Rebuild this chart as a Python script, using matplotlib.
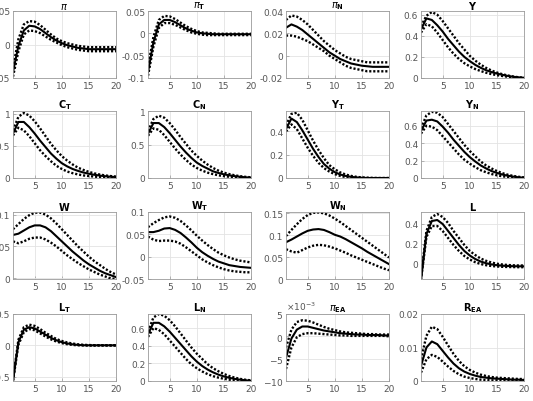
import numpy as np
import matplotlib
matplotlib.use('Agg')
import matplotlib.pyplot as plt
from matplotlib.ticker import ScalarFormatter

# horizon
h = np.arange(1, 21)

# panel titles (MATLAB-style TeX)
titles = [r'$\pi$', r'$\pi_{\mathbf{T}}$', r'$\pi_{\mathbf{N}}$', r'$\mathbf{Y}$',
          r'$\mathbf{C_T}$', r'$\mathbf{C_N}$', r'$\mathbf{Y_T}$', r'$\mathbf{Y_N}$',
          r'$\mathbf{W}$', r'$\mathbf{W_T}$', r'$\mathbf{W_N}$', r'$\mathbf{L}$',
          r'$\mathbf{L_T}$', r'$\mathbf{L_N}$', r'$\pi_{\mathbf{EA}}$', r'$\mathbf{R_{EA}}$']

# median responses and bands
pi_med = [-0.041, -0.002, 0.021, 0.028, 0.027, 0.023, 0.017, 0.011, 0.006, 0.002,
          -0.001, -0.003, -0.005, -0.006, -0.007, -0.007, -0.007, -0.007, -0.007, -0.007]
pi_up = [-0.035, 0.008, 0.030, 0.035, 0.034, 0.029, 0.022, 0.015, 0.009, 0.005,
         0.002, 0.000, -0.002, -0.003, -0.004, -0.004, -0.004, -0.004, -0.004, -0.004]
pi_lo = [-0.048, -0.010, 0.015, 0.021, 0.020, 0.017, 0.012, 0.007, 0.003, -0.001,
         -0.004, -0.006, -0.008, -0.009, -0.010, -0.010, -0.010, -0.010, -0.010, -0.010]

piT_med = [-0.087, -0.020, 0.020, 0.030, 0.030, 0.025, 0.018, 0.011, 0.006, 0.002,
           0.000, -0.001, -0.002, -0.002, -0.002, -0.002, -0.002, -0.002, -0.002, -0.002]
piT_up = [-0.075, -0.008, 0.030, 0.039, 0.038, 0.032, 0.024, 0.016, 0.010, 0.005,
          0.002, 0.001, 0.000, -0.001, -0.001, -0.001, -0.001, -0.001, -0.001, -0.001]
piT_lo = [-0.095, -0.030, 0.012, 0.023, 0.023, 0.019, 0.013, 0.007, 0.002, -0.001,
          -0.003, -0.004, -0.004, -0.004, -0.004, -0.004, -0.004, -0.004, -0.004, -0.004]

piN_med = [0.025, 0.028, 0.026, 0.023, 0.019, 0.015, 0.011, 0.007, 0.003, 0.000,
           -0.003, -0.005, -0.007, -0.008, -0.009, -0.0095, -0.010, -0.010, -0.010, -0.010]
piN_up = [0.032, 0.036, 0.035, 0.032, 0.028, 0.023, 0.018, 0.013, 0.009, 0.005,
          0.002, -0.001, -0.003, -0.004, -0.005, -0.006, -0.006, -0.006, -0.006, -0.006]
piN_lo = [0.018, 0.018, 0.017, 0.015, 0.013, 0.010, 0.007, 0.004, 0.000, -0.003,
          -0.006, -0.009, -0.011, -0.012, -0.013, -0.014, -0.014, -0.014, -0.014, -0.014]

Y_med = [0.46, 0.565, 0.55, 0.50, 0.44, 0.37, 0.31, 0.25, 0.20, 0.16,
         0.125, 0.097, 0.074, 0.056, 0.042, 0.030, 0.020, 0.012, 0.006, 0.002]
Y_up = [0.49, 0.59, 0.625, 0.60, 0.54, 0.47, 0.40, 0.33, 0.27, 0.21,
        0.165, 0.127, 0.096, 0.071, 0.052, 0.036, 0.024, 0.014, 0.007, 0.002]
Y_lo = [0.43, 0.51, 0.49, 0.43, 0.36, 0.29, 0.23, 0.18, 0.14, 0.11,
        0.085, 0.066, 0.050, 0.037, 0.027, 0.019, 0.012, 0.006, 0.002, -0.002]

CT_med = [0.69, 0.87, 0.87, 0.79, 0.69, 0.58, 0.48, 0.38, 0.30, 0.23,
          0.18, 0.14, 0.11, 0.085, 0.066, 0.050, 0.038, 0.028, 0.020, 0.015]
CT_up = [0.74, 0.95, 1.01, 0.97, 0.88, 0.77, 0.65, 0.53, 0.43, 0.34,
         0.27, 0.21, 0.16, 0.125, 0.095, 0.072, 0.054, 0.040, 0.030, 0.022]
CT_lo = [0.66, 0.78, 0.74, 0.65, 0.54, 0.43, 0.34, 0.26, 0.19, 0.14,
         0.10, 0.075, 0.055, 0.040, 0.030, 0.022, 0.015, 0.010, 0.006, 0.004]

CN_med = [0.66, 0.82, 0.82, 0.76, 0.67, 0.57, 0.47, 0.38, 0.30, 0.23,
          0.18, 0.14, 0.10, 0.075, 0.055, 0.040, 0.028, 0.018, 0.010, 0.005]
CN_up = [0.70, 0.88, 0.93, 0.90, 0.82, 0.72, 0.61, 0.51, 0.41, 0.33,
         0.26, 0.20, 0.15, 0.11, 0.08, 0.058, 0.040, 0.027, 0.017, 0.010]
CN_lo = [0.63, 0.74, 0.72, 0.64, 0.54, 0.44, 0.35, 0.27, 0.20, 0.15,
         0.11, 0.08, 0.058, 0.040, 0.028, 0.018, 0.010, 0.004, 0.000, -0.002]

YT_med = [0.42, 0.51, 0.48, 0.41, 0.33, 0.25, 0.18, 0.12, 0.08, 0.05,
          0.03, 0.018, 0.010, 0.005, 0.002, 0.0, 0.0, 0.0, 0.0, 0.0]
YT_up = [0.45, 0.55, 0.56, 0.50, 0.41, 0.32, 0.24, 0.17, 0.11, 0.075,
         0.048, 0.030, 0.018, 0.010, 0.005, 0.003, 0.001, 0.0, 0.0, 0.0]
YT_lo = [0.40, 0.46, 0.42, 0.34, 0.26, 0.19, 0.13, 0.085, 0.055, 0.033,
         0.018, 0.008, 0.003, 0.0, -0.002, -0.002, -0.002, -0.002, -0.002, -0.002]

YN_med = [0.54, 0.66, 0.67, 0.65, 0.59, 0.52, 0.44, 0.37, 0.30, 0.24,
          0.19, 0.145, 0.11, 0.08, 0.058, 0.040, 0.026, 0.016, 0.008, 0.003]
YN_up = [0.57, 0.72, 0.76, 0.75, 0.70, 0.62, 0.54, 0.46, 0.38, 0.31,
         0.25, 0.19, 0.145, 0.11, 0.08, 0.056, 0.038, 0.024, 0.014, 0.007]
YN_lo = [0.51, 0.60, 0.59, 0.55, 0.48, 0.41, 0.34, 0.27, 0.21, 0.165,
         0.125, 0.09, 0.066, 0.046, 0.031, 0.020, 0.012, 0.006, 0.001, -0.002]

W_med = [0.068, 0.070, 0.075, 0.080, 0.083, 0.083, 0.080, 0.074, 0.066, 0.058,
         0.050, 0.042, 0.035, 0.028, 0.022, 0.017, 0.012, 0.008, 0.005, 0.002]
W_up = [0.077, 0.085, 0.093, 0.099, 0.103, 0.103, 0.100, 0.094, 0.086, 0.077,
        0.068, 0.059, 0.050, 0.042, 0.034, 0.027, 0.021, 0.015, 0.010, 0.006]
W_lo = [0.058, 0.055, 0.058, 0.062, 0.064, 0.064, 0.061, 0.056, 0.050, 0.043,
        0.036, 0.030, 0.024, 0.019, 0.014, 0.010, 0.006, 0.003, 0.000, -0.001]

WT_med = [0.055, 0.055, 0.058, 0.063, 0.064, 0.060, 0.053, 0.043, 0.032, 0.020,
          0.010, 0.002, -0.005, -0.011, -0.015, -0.019, -0.021, -0.023, -0.024, -0.025]
WT_up = [0.066, 0.075, 0.082, 0.088, 0.090, 0.087, 0.080, 0.070, 0.059, 0.047,
         0.036, 0.026, 0.017, 0.009, 0.003, -0.002, -0.006, -0.009, -0.011, -0.013]
WT_lo = [0.045, 0.038, 0.035, 0.036, 0.036, 0.034, 0.029, 0.021, 0.012, 0.003,
         -0.006, -0.013, -0.019, -0.024, -0.028, -0.031, -0.033, -0.034, -0.035, -0.035]

WN_med = [0.084, 0.090, 0.097, 0.104, 0.110, 0.113, 0.114, 0.112, 0.107, 0.101,
          0.097, 0.091, 0.084, 0.077, 0.070, 0.062, 0.055, 0.048, 0.041, 0.034]
WN_up = [0.098, 0.112, 0.125, 0.137, 0.146, 0.151, 0.152, 0.150, 0.145, 0.138,
         0.130, 0.121, 0.112, 0.103, 0.094, 0.085, 0.076, 0.067, 0.058, 0.049]
WN_lo = [0.068, 0.063, 0.060, 0.066, 0.072, 0.076, 0.078, 0.077, 0.074, 0.070,
         0.065, 0.060, 0.054, 0.049, 0.044, 0.039, 0.034, 0.029, 0.024, 0.020]

L_med = [-0.15, 0.30, 0.43, 0.44, 0.40, 0.33, 0.26, 0.19, 0.13, 0.085,
         0.050, 0.025, 0.008, -0.004, -0.012, -0.017, -0.020, -0.022, -0.023, -0.023]
L_up = [-0.14, 0.33, 0.47, 0.50, 0.47, 0.41, 0.33, 0.26, 0.19, 0.13,
        0.09, 0.055, 0.032, 0.015, 0.003, -0.005, -0.010, -0.013, -0.015, -0.015]
L_lo = [-0.16, 0.27, 0.38, 0.38, 0.33, 0.26, 0.19, 0.13, 0.08, 0.045,
        0.018, 0.0, -0.012, -0.020, -0.025, -0.028, -0.030, -0.031, -0.032, -0.032]

LT_med = [-0.56, 0.05, 0.25, 0.29, 0.27, 0.22, 0.17, 0.12, 0.08, 0.05,
          0.03, 0.015, 0.006, 0.001, 0.0, 0.0, 0.0, 0.0, 0.0, 0.0]
LT_up = [-0.55, 0.09, 0.29, 0.33, 0.31, 0.26, 0.20, 0.15, 0.10, 0.07,
         0.045, 0.028, 0.016, 0.008, 0.004, 0.002, 0.001, 0.001, 0.001, 0.001]
LT_lo = [-0.57, 0.01, 0.21, 0.26, 0.24, 0.19, 0.14, 0.095, 0.06, 0.035,
         0.017, 0.006, 0.0, -0.003, -0.004, -0.004, -0.003, -0.003, -0.003, -0.003]

LN_med = [0.53, 0.66, 0.66, 0.62, 0.56, 0.49, 0.42, 0.35, 0.28, 0.22,
          0.17, 0.13, 0.098, 0.072, 0.052, 0.036, 0.024, 0.015, 0.008, 0.003]
LN_up = [0.56, 0.72, 0.76, 0.74, 0.69, 0.62, 0.54, 0.46, 0.38, 0.31,
         0.25, 0.19, 0.145, 0.11, 0.08, 0.056, 0.038, 0.024, 0.014, 0.007]
LN_lo = [0.50, 0.60, 0.58, 0.53, 0.46, 0.39, 0.32, 0.25, 0.19, 0.145,
         0.108, 0.078, 0.055, 0.038, 0.025, 0.015, 0.008, 0.003, 0.0, -0.003]

piEA_med = [-0.0048, -0.0005, 0.0015, 0.0022, 0.0022, 0.0019, 0.0016, 0.0013, 0.0011, 0.0009,
            0.0007, 0.0006, 0.0005, 0.0004, 0.0004, 0.0003, 0.0003, 0.0003, 0.0002, 0.0002]
piEA_up = [-0.0025, 0.0015, 0.0032, 0.0036, 0.0035, 0.0031, 0.0026, 0.0021, 0.0017, 0.0014,
           0.0011, 0.0009, 0.0008, 0.0007, 0.0006, 0.0005, 0.0005, 0.0004, 0.0004, 0.0004]
piEA_lo = [-0.0073, -0.0025, -0.0002, 0.0005, 0.0007, 0.0007, 0.0006, 0.0005, 0.0004, 0.0003,
           0.0002, 0.0002, 0.0001, 0.0001, 0.0001, 0.0001, 0.0001, 0.0001, 0.0001, 0.0]

REA_med = [0.0045, 0.0100, 0.0118, 0.0110, 0.0090, 0.0070, 0.0052, 0.0038, 0.0028, 0.0021,
           0.0016, 0.0012, 0.0010, 0.0008, 0.0007, 0.0006, 0.0005, 0.0004, 0.0004, 0.0003]
REA_up = [0.0065, 0.0135, 0.0162, 0.0155, 0.0132, 0.0106, 0.0081, 0.0060, 0.0044, 0.0033,
          0.0025, 0.0019, 0.0015, 0.0012, 0.0010, 0.0009, 0.0008, 0.0007, 0.0006, 0.0006]
REA_lo = [0.0025, 0.0065, 0.0078, 0.0072, 0.0058, 0.0043, 0.0030, 0.0020, 0.0013, 0.0009,
          0.0006, 0.0004, 0.0003, 0.0002, 0.0002, 0.0001, 0.0001, 0.0001, 0.0001, 0.0001]

medians = [pi_med, piT_med, piN_med, Y_med, CT_med, CN_med, YT_med, YN_med,
           W_med, WT_med, WN_med, L_med, LT_med, LN_med, piEA_med, REA_med]
uppers = [pi_up, piT_up, piN_up, Y_up, CT_up, CN_up, YT_up, YN_up,
          W_up, WT_up, WN_up, L_up, LT_up, LN_up, piEA_up, REA_up]
lowers = [pi_lo, piT_lo, piN_lo, Y_lo, CT_lo, CN_lo, YT_lo, YN_lo,
          W_lo, WT_lo, WN_lo, L_lo, LT_lo, LN_lo, piEA_lo, REA_lo]

# y limits and ticks per panel
ylims = [(-0.05, 0.05), (-0.1, 0.05), (-0.02, 0.04), (0, 0.635),
         (0, 1.04), (0, 1.0), (0, 0.575), (0, 0.77),
         (-0.001, 0.104), (-0.05, 0.1), (0, 0.153), (-0.15, 0.52),
         (-0.57, 0.5), (0, 0.76), (-0.01, 0.005), (0, 0.02)]
yticks = [[-0.05, 0, 0.05], [-0.1, -0.05, 0, 0.05], [-0.02, 0, 0.02, 0.04], [0, 0.2, 0.4, 0.6],
          [0, 0.5, 1], [0, 0.5, 1], [0, 0.2, 0.4], [0, 0.2, 0.4, 0.6],
          [0, 0.05, 0.1], [-0.05, 0, 0.05, 0.1], [0, 0.05, 0.1, 0.15], [0, 0.2, 0.4],
          [-0.5, 0, 0.5], [0, 0.2, 0.4, 0.6], [-0.01, -0.005, 0, 0.005], [0, 0.01, 0.02]]

fig = plt.figure(figsize=(5.33, 4.02), dpi=100)
W, H = 533.0, 402.0
lefts = [13, 148, 286, 421]
tops = [12, 112, 213, 315]
aw, ah = 103, 67

for i in range(16):
    r, c = divmod(i, 4)
    ax = fig.add_axes([lefts[c] / W, 1 - (tops[r] + ah) / H, aw / W, ah / H])
    ax.plot(h, medians[i], color='k', lw=1.5)
    ax.plot(h, uppers[i], color='k', lw=1.7, linestyle=(0, (0.9, 0.8)))
    ax.plot(h, lowers[i], color='k', lw=1.7, linestyle=(0, (0.9, 0.8)))
    ax.set_xlim(1, 20)
    ax.set_xticks([5, 10, 15, 20])
    ax.set_ylim(*ylims[i])
    ax.set_yticks(yticks[i])
    if i == 14:
        sf = ScalarFormatter(useMathText=True)
        sf.set_powerlimits((-3, -3))
        ax.yaxis.set_major_formatter(sf)
        ax.yaxis.get_offset_text().set_fontsize(6.5)
        ax.yaxis.get_offset_text().set_color('#555555')
    else:
        ax.set_yticklabels(['%g' % v for v in yticks[i]])
    ax.grid(True, color='#e3e3e3', lw=0.6)
    ax.set_axisbelow(True)
    for sp in ax.spines.values():
        sp.set_color('#9a9a9a')
        sp.set_linewidth(0.6)
    ax.tick_params(direction='in', length=2, width=0.5, colors='#9a9a9a',
                   labelcolor='#555555', labelsize=6.5, pad=2)
    ax.set_title(titles[i], fontsize=7, fontweight='bold', pad=1.5)

fig.savefig('out.png', dpi=100)
